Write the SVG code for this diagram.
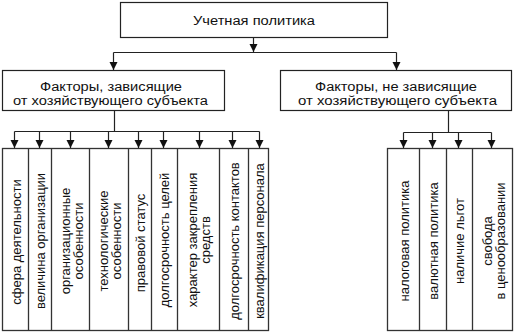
<svg xmlns="http://www.w3.org/2000/svg" width="515" height="332" viewBox="0 0 515 332">
<style>
.box{fill:#fff;stroke:#222;stroke-width:1.2}
.col{fill:none;stroke:#333;stroke-width:1.3}
.t{font-family:"Liberation Sans",Arial,sans-serif;font-size:12.5px;fill:#111;text-anchor:middle}
.v{font-family:"Liberation Sans",Arial,sans-serif;font-size:13px;fill:#111;text-anchor:middle;dominant-baseline:central}
.c{fill:none;stroke:#222;stroke-width:1.2}
</style>
<defs>
<marker id="ah" markerWidth="8" markerHeight="9" refX="8" refY="4" orient="auto" markerUnits="userSpaceOnUse">
<path d="M0,0 L8,4 L0,8 z" fill="#111"/>
</marker>
</defs>
<rect width="515" height="332" fill="#fff"/>
<g id="root">
<rect class="box" x="120.5" y="2.5" width="267" height="35"/>
<text class="t" x="254" y="24.5" textLength="122" lengthAdjust="spacingAndGlyphs">Учетная политика</text>
</g>
<g id="dep">
<rect class="box" x="2.5" y="70.5" width="222" height="40"/>
<text class="t" x="111" y="91" textLength="142" lengthAdjust="spacingAndGlyphs">Факторы, зависящие</text>
<text class="t" x="110.5" y="104.5" textLength="195" lengthAdjust="spacingAndGlyphs">от хозяйствующего субъекта</text>
</g>
<g id="indep">
<rect class="box" x="280.5" y="70.5" width="231" height="40"/>
<text class="t" x="396" y="91" textLength="162" lengthAdjust="spacingAndGlyphs">Факторы, не зависящие</text>
<text class="t" x="397.5" y="104.5" textLength="199" lengthAdjust="spacingAndGlyphs">от хозяйствующего субъекта</text>
</g>
<g id="left-factors">
<rect class="col" x="2.5" y="148.5" width="266" height="182"/>
<path class="col" d="M28.5,148.5V330.5M51.5,148.5V330.5M89.5,148.5V330.5M128.5,148.5V330.5M151.5,148.5V330.5M177.5,148.5V330.5M219.5,148.5V330.5M248.5,148.5V330.5"/>
<g id="f1"><text class="v" transform="translate(16,242) rotate(-90)">сфера деятельности</text></g>
<g id="f2"><text class="v" transform="translate(40,241) rotate(-90)">величина организации</text></g>
<g id="f3"><text class="v" transform="translate(71,241) rotate(-90)"><tspan x="0" dy="-6.5">организационные</tspan><tspan x="0" dy="13">особенности</tspan></text></g>
<g id="f4"><text class="v" transform="translate(109,241) rotate(-90)"><tspan x="0" dy="-6.5">технологические</tspan><tspan x="0" dy="13">особенности</tspan></text></g>
<g id="f5"><text class="v" transform="translate(140,243) rotate(-90)">правовой статус</text></g>
<g id="f6"><text class="v" transform="translate(164,240) rotate(-90)">долгосрочность целей</text></g>
<g id="f7"><text class="v" transform="translate(198,240) rotate(-90)"><tspan x="0" dy="-6.5">характер закрепления</tspan><tspan x="0" dy="13">средств</tspan></text></g>
<g id="f8"><text class="v" transform="translate(234,241) rotate(-90)">долгосрочность контактов</text></g>
<g id="f9"><text class="v" transform="translate(259,241) rotate(-90)">квалификация персонала</text></g>
</g>
<g id="right-factors">
<rect class="col" x="387.5" y="148.5" width="125" height="182"/>
<path class="col" d="M419.5,148.5V330.5M446.5,148.5V330.5M472.5,148.5V330.5"/>
<g id="r1"><text class="v" transform="translate(404,241) rotate(-90)">налоговая политика</text></g>
<g id="r2"><text class="v" transform="translate(433,241) rotate(-90)">валютная политика</text></g>
<g id="r3"><text class="v" transform="translate(459,241) rotate(-90)">наличие льгот</text></g>
<g id="r4"><text class="v" transform="translate(493,241) rotate(-90)"><tspan x="0" dy="-6.5">свобода</tspan><tspan x="0" dy="13">в ценообразовании</tspan></text></g>
</g>
<g id="connectors">
<path class="c" d="M253.5,37.5V52" marker-end="url(#ah)"/>
<path class="c" d="M113.5,52.5H396.5"/>
<path class="c" d="M113.5,52.5V70" marker-end="url(#ah)"/>
<path class="c" d="M396.5,52.5V70" marker-end="url(#ah)"/>
<path class="c" d="M114.5,110.5V131.5M14.5,131.5H259.5"/>
<path class="c" d="M14.5,131.5V148" marker-end="url(#ah)"/>
<path class="c" d="M39.5,131.5V148" marker-end="url(#ah)"/>
<path class="c" d="M70.5,131.5V148" marker-end="url(#ah)"/>
<path class="c" d="M108.5,131.5V148" marker-end="url(#ah)"/>
<path class="c" d="M138.5,131.5V148" marker-end="url(#ah)"/>
<path class="c" d="M163.5,131.5V148" marker-end="url(#ah)"/>
<path class="c" d="M199.5,131.5V148" marker-end="url(#ah)"/>
<path class="c" d="M232.5,131.5V148" marker-end="url(#ah)"/>
<path class="c" d="M259.5,131.5V148" marker-end="url(#ah)"/>
<path class="c" d="M448.5,110.5V132.5M403.5,132.5H491.5"/>
<path class="c" d="M403.5,132.5V148" marker-end="url(#ah)"/>
<path class="c" d="M432.5,132.5V148" marker-end="url(#ah)"/>
<path class="c" d="M458.5,132.5V148" marker-end="url(#ah)"/>
<path class="c" d="M491.5,132.5V148" marker-end="url(#ah)"/>
</g>
</svg>
